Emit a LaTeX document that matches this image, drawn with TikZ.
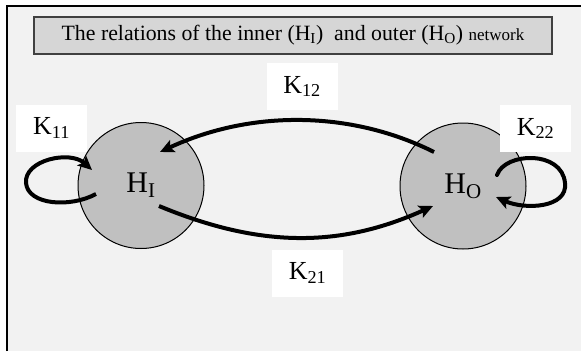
\documentclass[tikz,border=0pt]{standalone}
\usepackage{fontspec}
\setmainfont{Liberation Serif}
\usepackage{xcolor}
\usetikzlibrary{arrows.meta}
\definecolor{paneBg}{HTML}{F2F2F2}
\definecolor{titleBg}{HTML}{D6D6D6}
\definecolor{netGray}{HTML}{C0C0C0}

\begin{document}
\begin{tikzpicture}[x=1pt, y=-1pt,
  net/.style={circle, draw, fill=netGray, line width=1pt, minimum size=126pt, inner sep=0pt, font=\fontsize{30}{34}\selectfont},
  klabel/.style={fill=white, minimum width=71pt, minimum height=47pt, inner sep=0pt, font=\fontsize{26}{30}\selectfont},
  link/.style={line width=4pt, -{Stealth[length=14pt, width=13pt, inset=3pt]}}]
\useasboundingbox (0,0) rectangle (581,351);
\fill[paneBg] (7,6) rectangle (581,351); % pane runs off the page
\draw[line width=2pt] (7,351) -- (7,6) -- (581,6);
\node[draw=black!75, fill=titleBg, line width=2pt, minimum width=518pt, minimum height=37pt] (title) at (293,35.5)
  {\fontsize{21.8}{25}\selectfont The relations of the inner (H\textsubscript{I})\ \ and outer (H\textsubscript{O}) {\fontsize{17}{20}\selectfont network}};
\node[net] (HI) at (141,185.5) {H\textsubscript{I}};
\node[net] (HO) at (463,186) {H\textsubscript{O}};
\node[klabel] (K11) at (51.5,128) {K\textsubscript{11}};
\node[klabel] (K12) at (302,86.5) {K\textsubscript{12}};
\node[klabel] (K21) at (307.5,273) {K\textsubscript{21}};
\node[klabel] (K22) at (535.5,128.5) {K\textsubscript{22}};
\coordinate (HIin) at (160,152);
\coordinate (HIout) at (159,206);
\coordinate (HOin) at (433,206);
\coordinate (HOout) at (434,152);
\coordinate (HIself) at (96,194);
\coordinate (HIback) at (92,170);
\coordinate (HOself) at (497,175);
\coordinate (HOback) at (496,197);
\draw[link] (HOout) .. controls (350,110) and (250,110) .. (HIin); % K12
\draw[link] (HIout) .. controls (260,248) and (340,248) .. (HOin); % K21
\draw[link] (HIself) .. controls (70,208) and (28,205) .. (26,183) .. controls (24,160) and (70,150) .. (HIback); % K11
\draw[link, line cap=round] (HOself) .. controls (505,152) and (562,150) .. (565,183) .. controls (568,208) and (525,210) .. (HOback); % K22
\end{tikzpicture}
\end{document}
